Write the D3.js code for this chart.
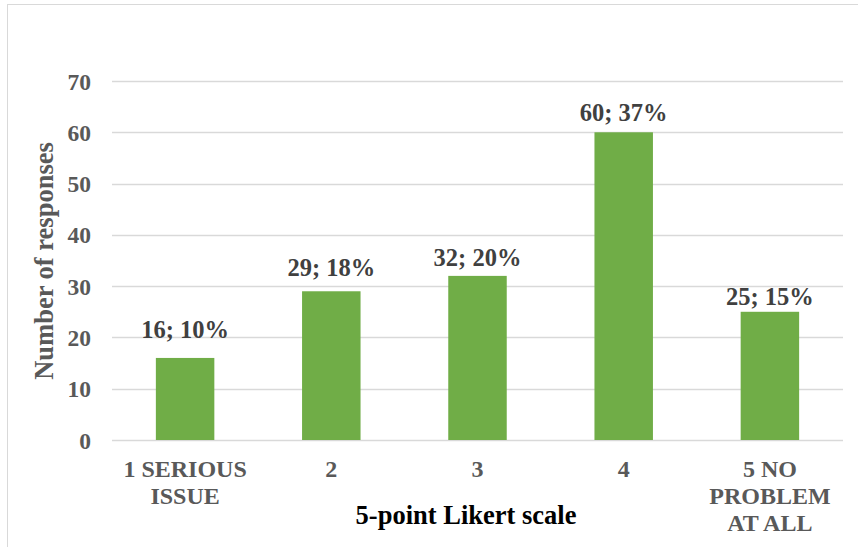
<!DOCTYPE html>
<html>
<head>
<meta charset="utf-8">
<script src="https://cdn.jsdelivr.net/npm/d3@7"></script>
<style>
html,body{margin:0;padding:0;background:#fff;}
svg{display:block;}
</style>
</head>
<body>
<svg id="chart" width="858" height="547"></svg>
<script>
const categories = ["1 SERIOUS ISSUE", "2", "3", "4", "5 NO PROBLEM AT ALL"];
const categoryLines = [["1 SERIOUS", "ISSUE"], ["2"], ["3"], ["4"], ["5 NO", "PROBLEM", "AT ALL"]];
const responses = [16, 29, 32, 60, 25];
const percents = ["10%", "18%", "20%", "37%", "15%"];
const yTicks = [0, 10, 20, 30, 40, 50, 60, 70];
const xTitle = "5-point Likert scale";
const yTitle = "Number of responses";

(function () {
const svg = d3.select("#chart");
const font = '"Liberation Serif", "Times New Roman", serif';
const styleText = sel => sel.style("font-family", font).style("font-weight", "bold");

// outer chart border
svg.append("rect").attr("x", 7.5).attr("y", 4.5).attr("width", 900).attr("height", 600)
  .attr("fill", "none").attr("stroke", "#d9d9d9").attr("stroke-width", 1);

const pLeft = 112, pRight = 843, pTop = 81, pBottom = 440;
const x = d3.scaleBand().domain(categories).range([pLeft, pRight]).paddingInner(0.6).paddingOuter(0.3);
const y = d3.scaleLinear().domain([0, 70]).range([pBottom, pTop]);

// gridlines
svg.append("g").selectAll("line").data(yTicks).join("line")
  .attr("x1", pLeft).attr("x2", pRight)
  .attr("y1", d => Math.round(y(d)) + 0.5).attr("y2", d => Math.round(y(d)) + 0.5)
  .attr("stroke", "#d9d9d9").attr("stroke-width", 1.3);

// y axis labels
const yAxis = d3.axisLeft(y).tickValues(yTicks).tickSize(0).tickPadding(0);
const yg = svg.append("g").attr("transform", `translate(91,0)`).call(yAxis);
yg.select(".domain").remove();
yg.selectAll("text").call(styleText).style("font-size", "23.5px")
  .attr("fill", "#595959").attr("dy", "0.34em");

// bars
svg.append("g").selectAll("rect").data(responses).join("rect")
  .attr("x", (d, i) => x(categories[i]))
  .attr("width", x.bandwidth())
  .attr("y", d => y(d))
  .attr("height", d => y(0) - y(d))
  .attr("fill", "#70ad47");

// data labels (manually nudged above bars, as in the original)
const labelLift = [20, 15, 10, 11, 7];
svg.append("g").selectAll("text").data(responses).join("text")
  .attr("x", (d, i) => x(categories[i]) + x.bandwidth() / 2)
  .attr("y", (d, i) => y(d) - labelLift[i])
  .attr("text-anchor", "middle")
  .call(styleText).style("font-size", "24.5px")
  .attr("fill", "#404040")
  .text((d, i) => `${d}; ${percents[i]}`);

// x category labels
const xg = svg.append("g");
categories.forEach((c, i) => {
  const t = xg.append("text")
    .attr("x", x(c) + x.bandwidth() / 2)
    .attr("y", 477)
    .attr("text-anchor", "middle")
    .call(styleText).style("font-size", "24px")
    .attr("fill", "#595959");
  categoryLines[i].forEach((line, j) => {
    t.append("tspan").attr("x", x(c) + x.bandwidth() / 2).attr("dy", j === 0 ? 0 : 27).text(line);
  });
});

// axis titles
svg.append("text").attr("x", 466).attr("y", 524).attr("text-anchor", "middle")
  .call(styleText).style("font-size", "26.5px")
  .attr("fill", "#000").text(xTitle);

svg.append("text").attr("transform", "translate(53,261) rotate(-90)").attr("text-anchor", "middle")
  .call(styleText).style("font-size", "26.5px")
  .attr("fill", "#595959").text(yTitle);
})();
</script>
</body>
</html>
